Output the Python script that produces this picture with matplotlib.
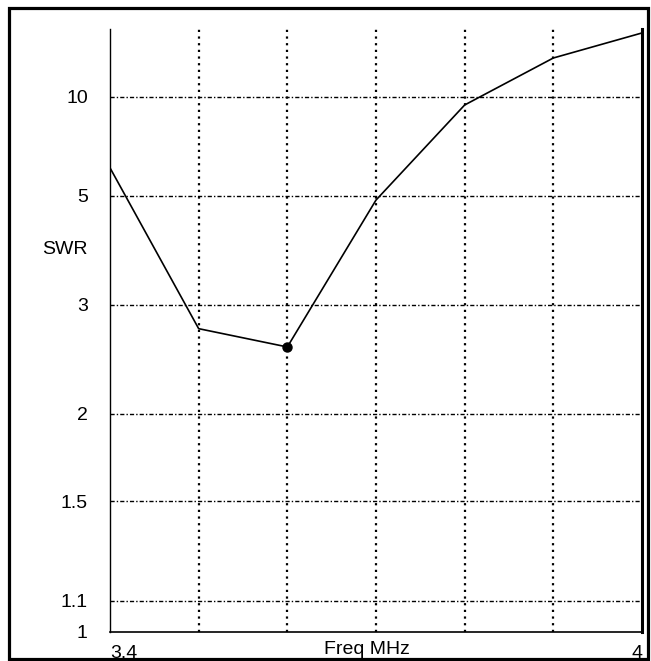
import numpy as np
import matplotlib
matplotlib.use("Agg")
import matplotlib.pyplot as plt
from matplotlib.patches import Rectangle

plt.rcParams['font.family'] = ['Liberation Sans', 'DejaVu Sans']

# data
freq = [3.4, 3.5, 3.6, 3.7, 3.8, 3.9, 4.0]
swr = [5.89, 2.73, 2.545, 4.89, 9.3, 15.35, 22.8]
marker_freq = [3.6]
marker_swr = [2.545]
y_ticks = [1, 1.1, 1.5, 2, 3, 5, 10]
y_grid = [1.1, 1.5, 2, 3, 5, 10]
x_grid = [3.5, 3.6, 3.7, 3.8, 3.9]


# SWR scale: linear in reflection coefficient
def to_rho(s):
    s = np.asarray(s, dtype=float)
    return (s - 1) / (s + 1)


def from_rho(r):
    r = np.asarray(r, dtype=float)
    return (1 + r) / (1 - r)


W, H = 651, 661
FS = 14
fig = plt.figure(figsize=(W / 100, H / 100), dpi=100)
ax = fig.add_axes([110 / W, 1 - 632 / H, (642 - 110) / W, (632 - 29) / H])

ax.set_yscale('function', functions=(to_rho, from_rho))
ax.set_xlim(3.4, 4.0)
ax.set_ylim(1, from_rho(0.922))

# grid
for xv in x_grid:
    ax.axvline(xv, color='black', lw=1.6, ls=(0, (1, 2)), zorder=1)
for yv in y_grid:
    ax.axhline(yv, color='black', lw=1.0, ls=(0, (3, 1.5, 1, 1.5)), zorder=1)

ax.plot(freq, swr, color='black', lw=1.2, zorder=3)
ax.plot(marker_freq, marker_swr, 'o', color='black', markersize=6.5, zorder=4)

# spines
ax.spines['top'].set_visible(False)
ax.spines['left'].set_linewidth(1.0)
ax.spines['bottom'].set_linewidth(1.2)
ax.spines['right'].set_linewidth(2.2)

ax.set_yticks(y_ticks)
ax.set_yticklabels([str(v) for v in y_ticks])
ax.yaxis.set_minor_locator(matplotlib.ticker.NullLocator())
ax.tick_params(axis='y', length=0, pad=16, labelsize=FS)

ax.set_xticks([3.4, 4.0])
ax.set_xticklabels(['3.4', '4'])
ax.tick_params(axis='x', length=0, pad=9, labelsize=FS)
xl = ax.get_xticklabels()
xl[0].set_ha('left')
xl[1].set_ha('right')

ax.set_xlabel('Freq MHz', fontsize=FS)
ax.xaxis.set_label_coords(0.483, -0.015, transform=ax.transAxes)
ax.xaxis.label.set_va('top')

fig.text(88 / W, 1 - 250 / H, 'SWR', ha='right', va='center', fontsize=FS)

# outer frame
fig.patches.append(Rectangle((8.5 / W, 1 - 659 / H), (648 - 8.5) / W, (659 - 7.5) / H,
                             transform=fig.transFigure, fill=False, lw=2.3,
                             edgecolor='black'))

fig.savefig('out.png', dpi=100)
